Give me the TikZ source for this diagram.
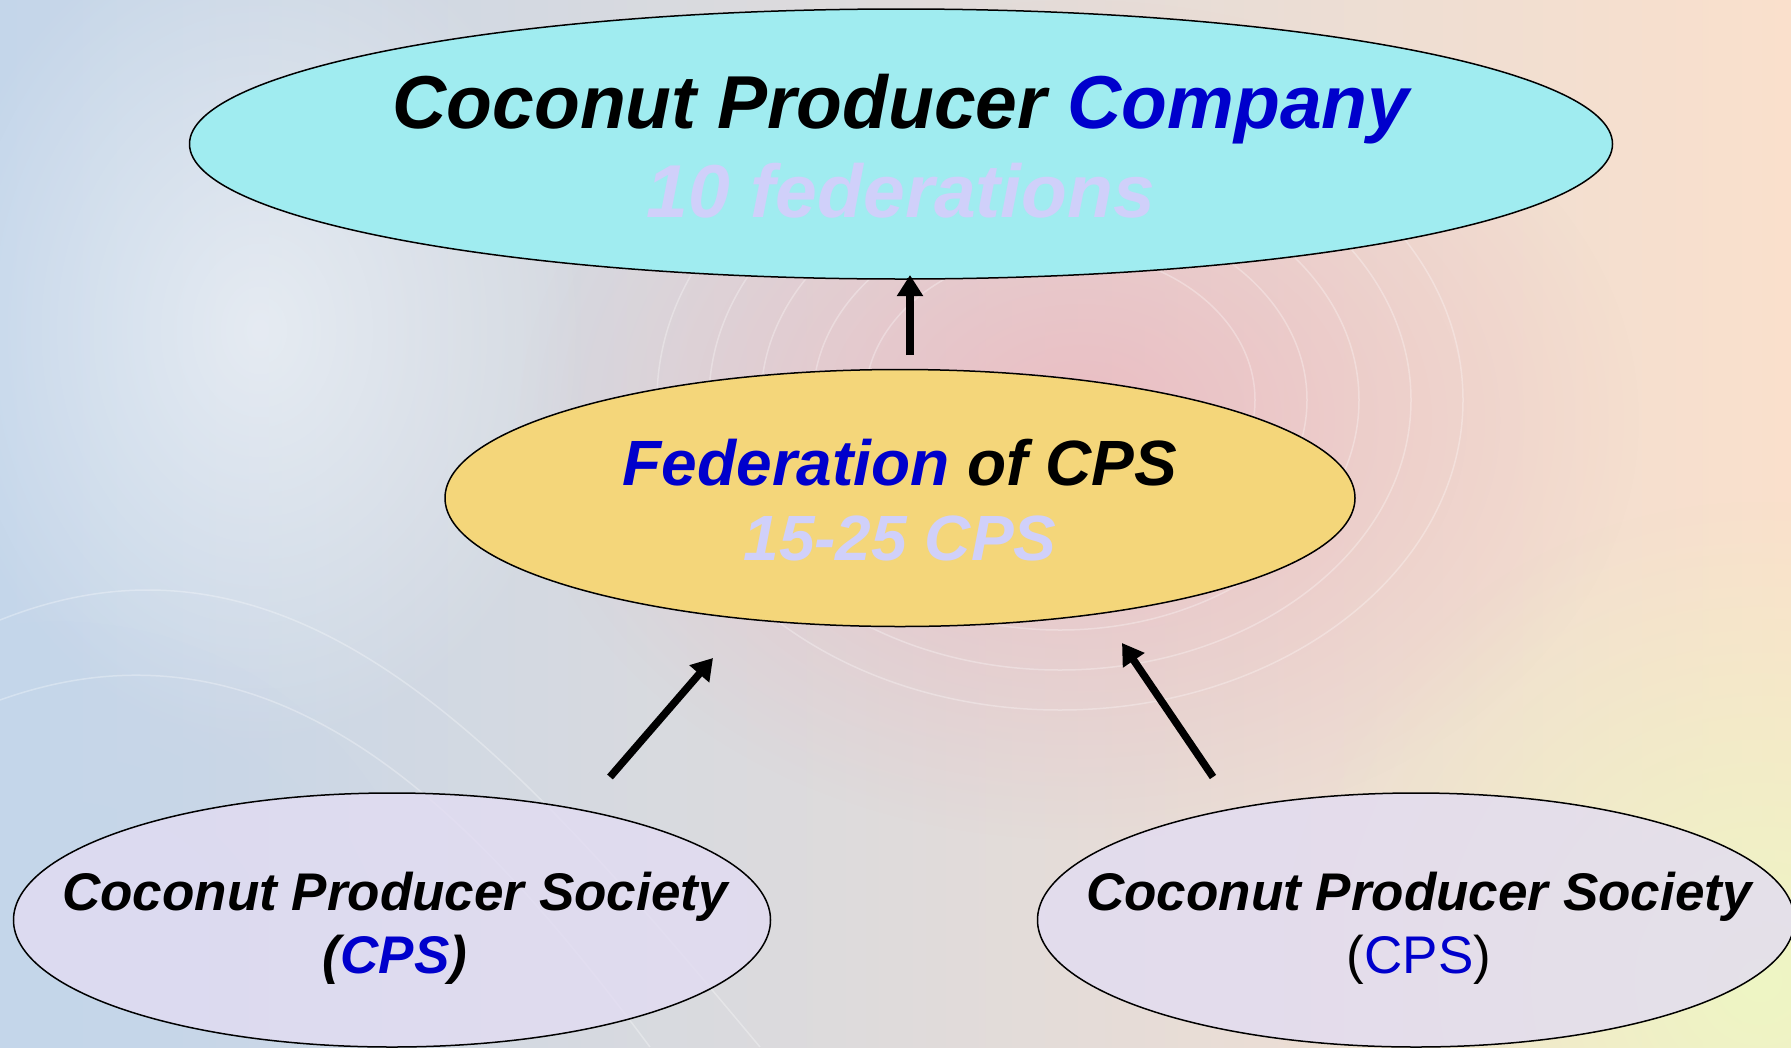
\documentclass[tikz,border=0pt]{standalone}
\usepackage{fontspec}
\setmainfont{Liberation Sans}
\usepackage{xcolor}
\usepackage{tikz}
\usetikzlibrary{shapes, arrows.meta, positioning, fadings}

\definecolor{cpblue}{RGB}{0,0,204}
\definecolor{fadetxt}{RGB}{208,208,250}
\definecolor{compfill}{RGB}{160,236,240}
\definecolor{fedfill}{RGB}{244,214,122}
\definecolor{socfill}{RGB}{226,220,242}
\definecolor{bgblue}{RGB}{196,214,234}
\definecolor{bgpink}{RGB}{242,204,214}
\definecolor{bgpeach}{RGB}{250,224,204}
\definecolor{bgswirl}{RGB}{236,182,190}
\definecolor{bgyellow}{RGB}{238,246,196}

\tikzfading[name=softspot, inner color=transparent!0, outer color=transparent!100]

\tikzset{
  blob/.style={draw=black, line width=1.5pt, ellipse, inner sep=0pt},
  blobtext/.style={align=center, inner sep=0pt},
  uparrow/.style={line width=7.5pt, -{Triangle[width=25pt, length=21pt]}},
  swirl/.style={white, line width=1.5pt, opacity=0.3}
}

\begin{document}
\begin{tikzpicture}[x=1pt, y=-1pt]
  \useasboundingbox (0,0) rectangle (1791,1047);
  % background
  \shade[left color=bgblue, middle color=bgpink, right color=bgpeach] (0,0) rectangle (1791,1047);
  \fill[white, opacity=0.5, path fading=softspot] (260,330) ellipse (330 and 420);
  \fill[bgswirl, opacity=0.8, path fading=softspot] (1080,420) ellipse (560 and 420);
  \fill[bgyellow, path fading=softspot] (1760,980) circle (480);
  \fill[bgblue, opacity=0.7, path fading=softspot] (60,1000) circle (380);
  \foreach \r in {150,190,230,270,310}
    \draw[swirl] (1060,400) ellipse ({\r*1.3} and \r);
  \draw[swirl] (0,620) .. controls (300,500) and (520,760) .. (760,1047);
  \draw[swirl] (0,700) .. controls (280,600) and (480,820) .. (650,1047);

  % levels
  \node[blob, fill=compfill, minimum width=1423pt, minimum height=270pt] (company) at (901,144) {};
  \node[blob, fill=fedfill, minimum width=910pt, minimum height=257pt] (fed) at (900,498) {};
  \node[blob, fill=socfill, fill opacity=0.8, minimum width=757pt, minimum height=254pt] (cpsleft) at (392,920) {};
  \node[blob, fill=socfill, fill opacity=0.8, minimum width=757pt, minimum height=254pt] (cpsright) at (1416,920) {};

  \node[blobtext, font=\fontsize{75}{89}\selectfont\bfseries\itshape] (companyText) at ([yshift=-2pt]company.center)
    {Coconut Producer {\color{cpblue}Company}\\ {\color{fadetxt}10 federations}};
  \node[blobtext, font=\fontsize{64}{75}\selectfont\bfseries\itshape] (fedText) at ([yshift=-2pt]fed.center)
    {{\color{cpblue}Federation} of CPS\\ {\color{fadetxt}15-25 CPS}};
  \node[blobtext, font=\fontsize{53}{63}\selectfont\bfseries\itshape] (cpsleftText) at ([xshift=3pt,yshift=-8pt]cpsleft.center)
    {Coconut Producer Society\\ ({\color{cpblue}CPS})};
  \node[blobtext, font=\fontsize{53}{63}\selectfont\bfseries\itshape] (cpsrightText) at ([xshift=3pt,yshift=-8pt]cpsright.center)
    {Coconut Producer Society\\ {\normalfont({\color{cpblue}CPS})}};

  % arrows
  \coordinate (upTail) at (910,355);
  \coordinate (upTip) at (910,275);
  \coordinate (leftTail) at (610,777);
  \coordinate (leftTip) at (713,658);
  \coordinate (rightTail) at (1213,777);
  \coordinate (rightTip) at (1122,643);
  \draw[uparrow] (upTail) -- (upTip);
  \draw[uparrow] (leftTail) -- (leftTip);
  \draw[uparrow] (rightTail) -- (rightTip);
\end{tikzpicture}
\end{document}
